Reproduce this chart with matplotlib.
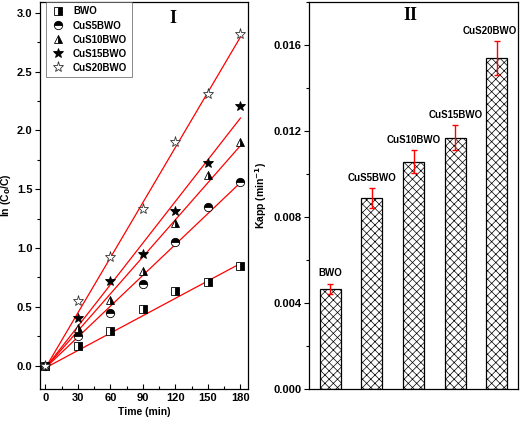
import numpy as np
import matplotlib
matplotlib.use("Agg")
import matplotlib.pyplot as plt
from matplotlib.ticker import MultipleLocator, FormatStrFormatter

plt.rcParams['font.family'] = ['Liberation Sans', 'DejaVu Sans']
plt.rcParams['font.weight'] = 'bold'
plt.rcParams['hatch.linewidth'] = 0.5

# panel I: ln(C0/C) vs time
time = [0, 30, 60, 90, 120, 150, 180]
bwo = [0.0, 0.17, 0.29, 0.48, 0.635, 0.71, 0.845]
cus5 = [0.0, 0.25, 0.445, 0.695, 1.05, 1.35, 1.563]
cus10 = [0.0, 0.32, 0.553, 0.80, 1.21, 1.62, 1.90]
cus15 = [0.0, 0.40, 0.715, 0.947, 1.316, 1.72, 2.207]
cus20 = [0.0, 0.545, 0.92, 1.33, 1.90, 2.306, 2.817]
names = ['BWO', 'CuS5BWO', 'CuS10BWO', 'CuS15BWO', 'CuS20BWO']

# linear fits as drawn (slope, intercept)
fit_slope = [0.00493, 0.00875, 0.0105, 0.0118, 0.01563]
fit_icpt = [-0.02, -0.02, -0.02, -0.02, -0.02]

# panel II: apparent rate constants
kapp = [0.00466, 0.00889, 0.01058, 0.01169, 0.0154]
kapp_err = [0.00024, 0.00045, 0.00053, 0.00058, 0.00077]

fig = plt.figure(figsize=(5.2, 4.24), dpi=100)
ax1 = fig.add_axes([0.077, 0.0825, 0.400, 0.9125])
ax2 = fig.add_axes([0.595, 0.0825, 0.4006, 0.9125])

styles = [
    dict(marker='s', fillstyle='right', markersize=5.5),
    dict(marker='o', fillstyle='top', markersize=6),
    dict(marker='^', fillstyle='right', markersize=6),
    dict(marker='*', fillstyle='full', markersize=7.5),
    dict(marker='*', fillstyle='none', markersize=8),
]
series = [bwo, cus5, cus10, cus15, cus20]
t = np.array(time)
for m, b in zip(fit_slope, fit_icpt):
    ax1.plot(t, m * t + b, color='red', lw=0.9, zorder=1)
for y, name, st in zip(series, names, styles):
    kw = dict(color='black', markerfacecolor='black',
              markerfacecoloralt='white', markeredgecolor='black',
              markeredgewidth=0.6, linestyle='none')
    kw.update(st)
    if st['fillstyle'] == 'none':
        kw['fillstyle'] = 'full'
        kw['markerfacecolor'] = 'white'
        kw['markeredgecolor'] = '#333333'
    ax1.plot(time, y, label=name, zorder=3, **kw)

ax1.set_xlim(-5, 187)
ax1.set_ylim(-0.2, 3.09)
ax1.xaxis.set_major_locator(MultipleLocator(30))
ax1.xaxis.set_minor_locator(MultipleLocator(15))
ax1.yaxis.set_major_locator(MultipleLocator(0.5))
ax1.yaxis.set_minor_locator(MultipleLocator(0.25))
ax1.yaxis.set_major_formatter(FormatStrFormatter('%.1f'))
ax1.set_xlabel('Time (min)', fontsize=7.5, fontweight='bold', labelpad=3)
ax1.set_ylabel('ln (C$_\\mathbf{0}$/C)', fontsize=7.5, fontweight='bold')
ax1.yaxis.set_label_coords(-0.128, 0.5)
ax1.text(0.64, 0.958, 'I', transform=ax1.transAxes, fontsize=13,
         fontweight='bold', family='Liberation Serif', ha='center', va='center')
leg = ax1.legend(loc='upper left', bbox_to_anchor=(0.03, 1.0), fontsize=7,
                 frameon=True, fancybox=False, edgecolor='#555555',
                 borderaxespad=0.0, handletextpad=0.7, labelspacing=0.42,
                 borderpad=0.45, handlelength=1.6)
leg.get_frame().set_linewidth(0.6)
for txt in leg.get_texts():
    txt.set_fontweight('bold')

# panel II: bars
xpos = np.arange(len(names))
ax2.bar(xpos, kapp, width=0.5, color='white', edgecolor='black',
        linewidth=0.9, hatch='xxxx', zorder=2)
ax2.errorbar(xpos, kapp, yerr=kapp_err, fmt='none', ecolor='red',
             elinewidth=1, capsize=2.5, capthick=1, zorder=3)
label_dx = [0, 0, 0, 0, -5]
for x, k, e, name, dx in zip(xpos, kapp, kapp_err, names, label_dx):
    ax2.annotate(name, (x, k + e), xytext=(dx, 4), textcoords='offset points',
                 ha='center', va='bottom', fontsize=7, fontweight='bold')
ax2.set_xlim(-0.5, 4.5)
ax2.set_ylim(0, 0.018)
ax2.set_xticks(xpos)
ax2.set_xticklabels([])
ax2.yaxis.set_major_locator(MultipleLocator(0.004))
ax2.yaxis.set_minor_locator(MultipleLocator(0.002))
ax2.yaxis.set_major_formatter(FormatStrFormatter('%.3f'))
ax2.set_ylabel('Kapp (min$^{\\mathbf{-1}}$)', fontsize=7.5, fontweight='bold', labelpad=3)
ax2.text(0.485, 0.965, 'II', transform=ax2.transAxes, fontsize=13,
         fontweight='bold', family='Liberation Serif', ha='center', va='center')

for ax in (ax1, ax2):
    for sp in ax.spines.values():
        sp.set_linewidth(0.9)
    ax.tick_params(axis='y', which='major', direction='out', length=3.5, width=0.8,
                   labelsize=8, pad=2)
    ax.tick_params(axis='y', which='minor', direction='out', length=2, width=0.8)
    ax.tick_params(axis='x', which='major', direction='in', length=3.5, width=0.8,
                   labelsize=8, pad=3)
    ax.tick_params(axis='x', which='minor', direction='in', length=2, width=0.8)
    for lbl in ax.get_xticklabels() + ax.get_yticklabels():
        lbl.set_fontweight('bold')
ax2.tick_params(axis='x', which='major', length=3)

fig.savefig('out.png', dpi=100)
